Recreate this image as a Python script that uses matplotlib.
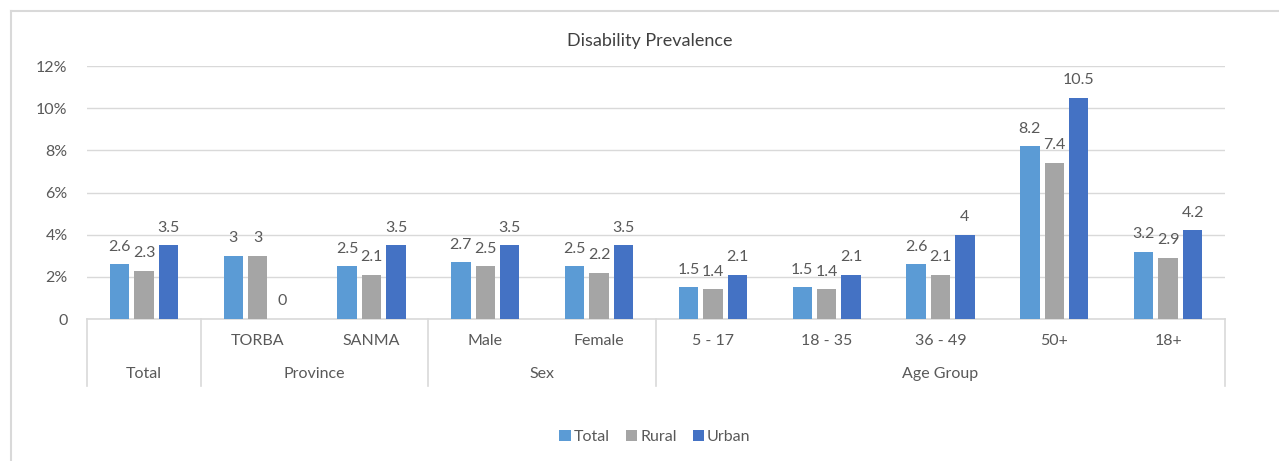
import numpy as np
import matplotlib.pyplot as plt
from matplotlib.lines import Line2D

# Disability prevalence, grouped bars with two-level category axis.

categories = ["Total", "TORBA", "SANMA", "Male", "Female",
              "5 - 17", "18 - 35", "36 - 49", "50+", "18+"]
inner_labels = ["", "TORBA", "SANMA", "Male", "Female",
                "5 - 17", "18 - 35", "36 - 49", "50+", "18+"]
groups = [("Total", 0, 1), ("Province", 1, 3), ("Sex", 3, 5), ("Age Group", 5, 10)]
total = [2.6, 3, 2.5, 2.7, 2.5, 1.5, 1.5, 2.6, 8.2, 3.2]
rural = [2.3, 3, 2.1, 2.5, 2.2, 1.4, 1.4, 2.1, 7.4, 2.9]
urban = [3.5, 0, 3.5, 3.5, 3.5, 2.1, 2.1, 4, 10.5, 4.2]
series = [("Total", total, "#5B9BD5"), ("Rural", rural, "#A5A5A5"), ("Urban", urban, "#4472C4")]

plt.rcParams['font.family'] = ['Lato', 'DejaVu Sans']
txt = "#595959"
grid = "#D9D9D9"

fig = plt.figure(figsize=(12.79, 4.61), dpi=100)
W, H = 1279, 461
ax = fig.add_axes([87 / W, 1 - 319 / H, (1225 - 87) / W, (319 - 66) / H])

x = np.arange(len(categories))
step = 0.215
width = 0.17
for i, (name, vals, col) in enumerate(series):
    pos = x + (i - 1) * step
    ax.bar(pos, vals, width, color=col, label=name, zorder=3)
    for p, v in zip(pos, vals):
        ax.text(p, v + 0.5, f"{v:g}", ha="center", va="bottom",
                fontsize=11.5, color=txt)

ax.set_xlim(-0.5, len(categories) - 0.5)
ax.set_ylim(0, 12)
ax.set_yticks(range(0, 13, 2))
ax.set_yticklabels(["0"] + [f"{t}%" for t in range(2, 13, 2)])
ax.tick_params(axis="y", length=0, labelsize=11.5, labelcolor=txt, pad=14)
ax.tick_params(axis="x", length=0, labelbottom=False)
ax.grid(axis="y", color=grid, linewidth=1, zorder=0)
for s in ["top", "right", "left"]:
    ax.spines[s].set_visible(False)
ax.spines["bottom"].set_color(grid)
ax.spines["bottom"].set_linewidth(1.2)

# two-level category labels below the axis
trans = ax.get_xaxis_transform()
y1 = -22 / 253
y2 = -55 / 253
ysep = -67 / 253
for xi, lab in zip(x, inner_labels):
    ax.text(xi, y1, lab, transform=trans, ha="center", va="center",
            fontsize=11.5, color=txt)
for name, a, b in groups:
    ax.text((a + b - 1) / 2, y2, name, transform=trans, ha="center",
            va="center", fontsize=11.5, color=txt)
for b in [-0.5] + [g[2] - 0.5 for g in groups]:
    ax.add_line(Line2D([b, b], [0, ysep], transform=trans, color=grid,
                       linewidth=1.2, clip_on=False))

fig.text(650 / W, 1 - 41 / H, "Disability Prevalence", ha="center",
         va="center", fontsize=13, color="#404040")

ax.legend(loc="center", bbox_to_anchor=(655 / W, 1 - 437 / H),
          bbox_transform=fig.transFigure, ncol=3, frameon=False,
          fontsize=11.5, labelcolor=txt, handlelength=0.7, handleheight=0.7,
          handletextpad=0.2, columnspacing=1.0)

# chart frame
fig.add_artist(Line2D([11 / W, 1], [1 - 11 / H, 1 - 11 / H],
                      transform=fig.transFigure, color=grid, linewidth=1.5))
fig.add_artist(Line2D([11 / W, 11 / W], [0, 1 - 11 / H],
                      transform=fig.transFigure, color=grid, linewidth=1.5))

plt.savefig("out.png", dpi=100)
